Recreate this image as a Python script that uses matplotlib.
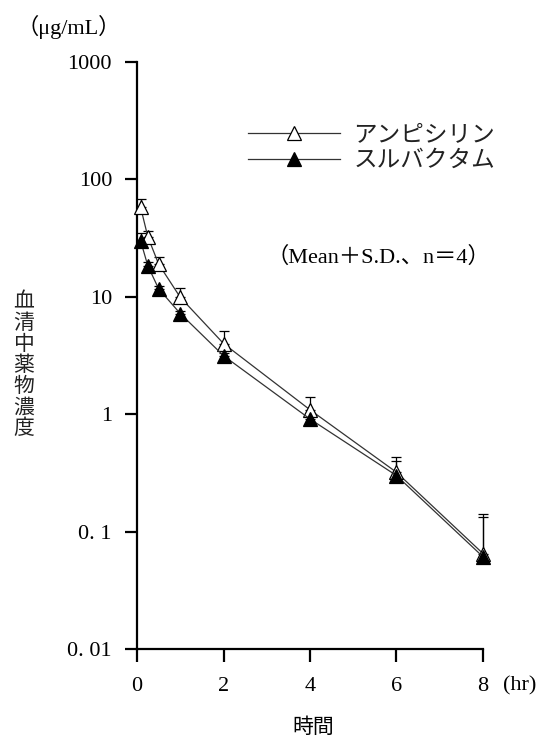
import numpy as np
import matplotlib
matplotlib.use("Agg")
import matplotlib.pyplot as plt

# データ
time_hr = [0.083, 0.25, 0.5, 1, 2, 4, 6, 8]
ampicillin = [58, 32.5, 19, 9.9, 4.0, 1.09, 0.32, 0.065]
ampicillin_sd = [10.6, 4.1, 3.0, 2.1, 1.1, 0.32, 0.11, 0.077]
sulbactam = [30, 18.4, 11.7, 7.2, 3.15, 0.91, 0.30, 0.061]
sulbactam_sd = [5.2, 1.2, 0.7, 0.4, 0.2, 0.05, 0.10, 0.072]

x_ticks = [0, 2, 4, 6, 8]
y_ticks = [0.01, 0.1, 1, 10, 100, 1000]
y_tick_labels = ["0. 01", "0. 1", "1", "10", "100", "1000"]

serif = ["Liberation Serif", "Noto Sans CJK JP"]
jp = ["Noto Sans CJK JP", "DejaVu Sans"]

fig = plt.figure(figsize=(5.47, 7.38), dpi=100)
ax = fig.add_axes([137 / 547, 89 / 738, 346 / 547, 587 / 738])

# 誤差棒（上側のみ）
for y, sd in [(ampicillin, ampicillin_sd), (sulbactam, sulbactam_sd)]:
    eb = ax.errorbar(time_hr, y, yerr=[np.zeros(len(y)), sd], fmt="none",
                     ecolor="black", elinewidth=0.9, capsize=3.5, capthick=0.9, zorder=2)
    for art in eb.lines[1] + eb.lines[2]:
        art.set_clip_on(False)

ax.plot(time_hr, ampicillin, color="#333333", lw=0.9, marker="^", ms=10,
        mfc="white", mec="black", mew=0.9, zorder=3, label="アンピシリン", clip_on=False)
ax.plot(time_hr, sulbactam, color="#333333", lw=0.9, marker="^", ms=10,
        mfc="black", mec="black", mew=0.9, zorder=4, label="スルバクタム", clip_on=False)

ax.set_yscale("log")
ax.set_ylim(0.01, 1000)
ax.set_xlim(0, 8)
ax.set_xticks(x_ticks)
ax.set_xticklabels([str(v) for v in x_ticks], family=serif, fontsize=16)
ax.set_yticks(y_ticks)
ax.set_yticklabels(y_tick_labels, family=serif, fontsize=16)
ax.yaxis.set_minor_locator(matplotlib.ticker.NullLocator())
ax.tick_params(direction="out", length=9, width=1.6, colors="black", pad=9)
ax.tick_params(axis="x", pad=11)
for s in ["top", "right"]:
    ax.spines[s].set_visible(False)
for s in ["left", "bottom"]:
    ax.spines[s].set_linewidth(1.6)

leg = ax.legend(loc="center left", bbox_to_anchor=(0.26, 0.854), frameon=False,
                handlelength=3.9, handletextpad=0.55, labelspacing=0.12,
                prop={"family": jp, "size": 17})
for t in leg.get_texts():
    t.set_color("#222222")

ax.text(0.375, 0.668, "（Mean＋S.D.、n＝4）", transform=ax.transAxes,
        family=serif, fontsize=16, va="center", ha="left")

fig.text(17 / 547, 1 - 27 / 738, "（μg/mL）", family=serif, fontsize=16,
         va="center", ha="left")
fig.text(503 / 547, 1 - 686 / 738, "(hr)", family=serif, fontsize=16,
         va="center", ha="left")
fig.text(313 / 547, 1 - 727 / 738, "時間", family=jp, fontsize=15,
         va="center", ha="center")
fig.text(24 / 547, 1 - 365 / 738, "\n".join("血清中薬物濃度"), family=jp,
         fontsize=15, va="center", ha="center", linespacing=0.95, color="#222222")

fig.savefig("out.png", dpi=100)
